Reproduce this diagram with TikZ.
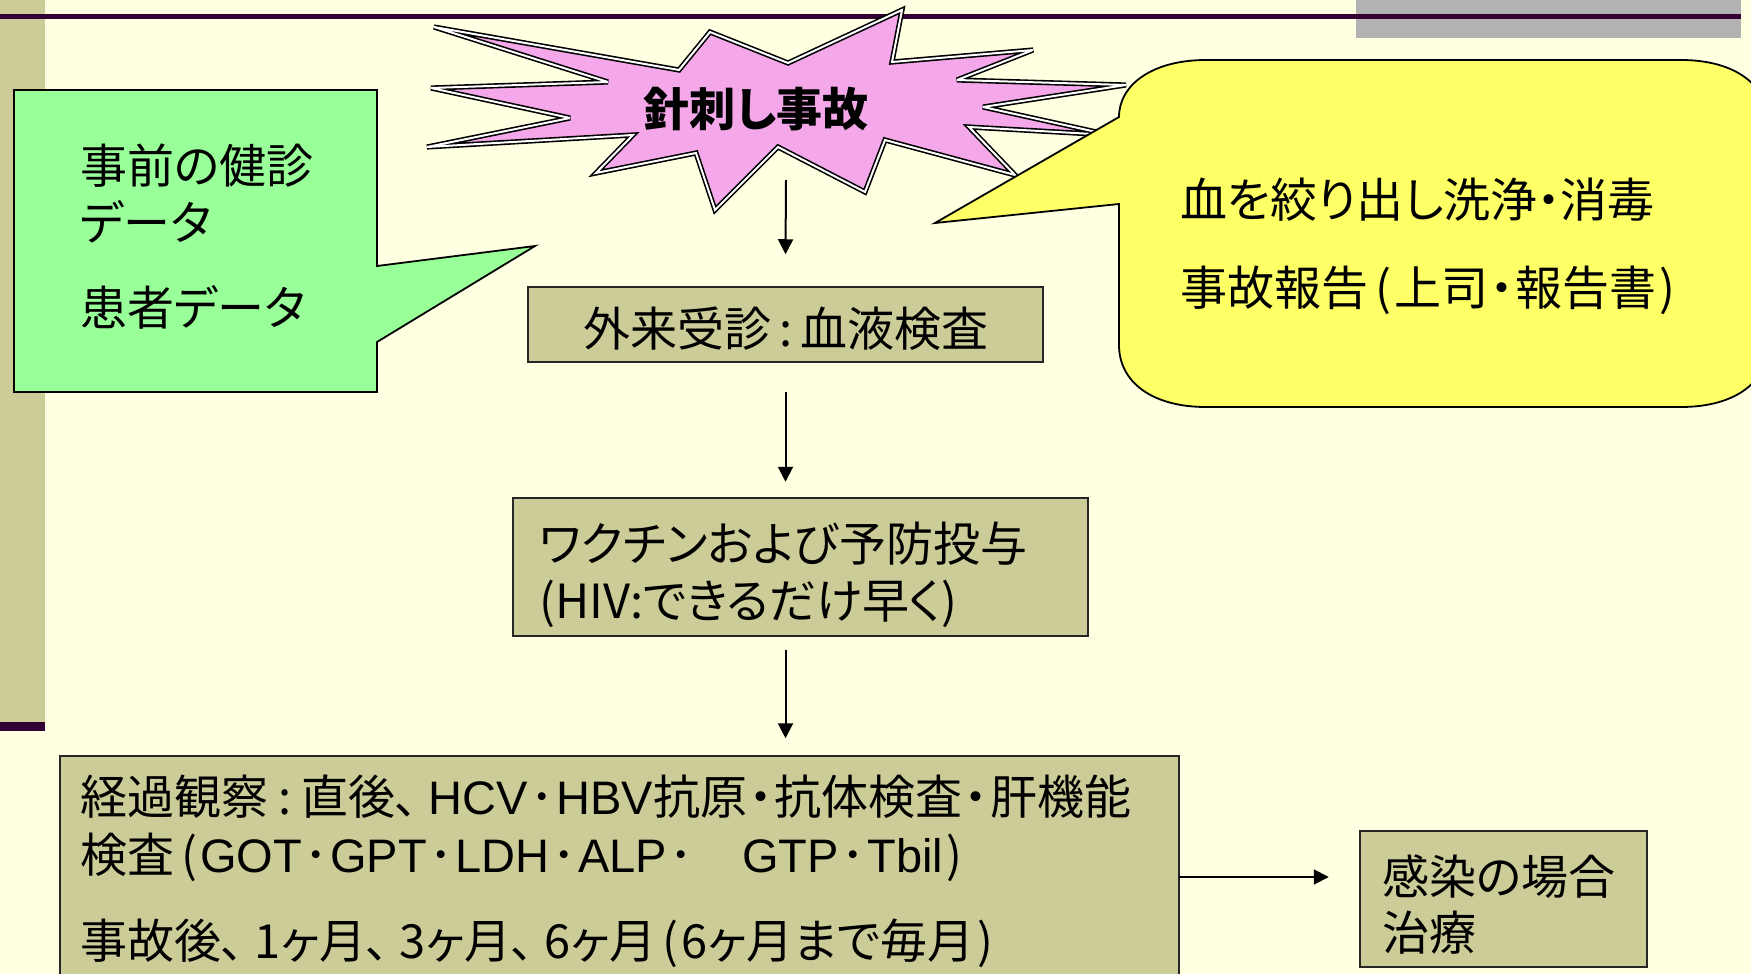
\documentclass[tikz,border=0pt]{standalone}
\usepackage{fontspec}
\setmainfont{Noto Sans CJK JP}[RawFeature=+palt]
\newfontfamily\latfont{Liberation Sans}
\usetikzlibrary{arrows.meta,fit,calc}
\definecolor{bgc}{HTML}{FFFFE1}
\definecolor{tanc}{HTML}{CCCC99}
\definecolor{greenc}{HTML}{99FF99}
\definecolor{yellowc}{HTML}{FFFF66}
\definecolor{pinkc}{HTML}{F4A8EA}
\definecolor{purplec}{HTML}{330033}
\definecolor{grayc}{HTML}{B2B2B2}
\newcommand\lpar{\hspace{7pt}(\hspace{3pt}}
\newcommand\rpar{\hspace{3pt})}
\newcommand\colo{\hspace{10pt}:\hspace{10pt}}
\newcommand\tenm{､\hspace{10pt}}
\newcommand\hdot{\hspace{2.5pt}･\hspace{2.5pt}}
\newcommand\kdot{\hspace{2pt}・\hspace{2pt}}
\newcommand\la[1]{{\latfont #1}}
\tikzset{
  txt/.style={anchor=base west, inner sep=0pt, font=\fontsize{47}{57}\selectfont},
  box/.style={draw=black!85, line width=1.5pt, fill=tanc, inner sep=0pt},
  arr/.style={line width=2pt, -{Triangle[length=15pt,width=15pt]}},
  callout/.style={draw=black, line width=1.8pt},
}
\begin{document}
\begin{tikzpicture}[x=1pt,y=-1pt]
\path[use as bounding box] (0,0) rectangle (1751,974);
\clip (0,0) rectangle (1751,974);
\fill[bgc] (0,0) rectangle (1751,974);
% decorations
\fill[grayc] (1356,0) rectangle (1741,38);
\fill[tanc] (0,0) rectangle (45,722);
\fill[purplec] (0,722) rectangle (45,731);
\fill[purplec] (0,14) rectangle (1741,19);

% green callout
\draw[callout, fill=greenc] (14,90) -- (377,90) -- (377,266) -- (535,246) -- (377,342) -- (377,392) -- (14,392) -- cycle;
\node[txt] (g1) at (80,183) {事前の健診};
\node[txt] (g2) at (80,240) {データ};
\node[txt] (g3) at (80,325) {患者データ};

% starburst
\draw[draw=black, double=white, double distance=2pt, line width=1.6pt, fill=pinkc, line join=miter, miter limit=4]
 (434,27) -- (679,70) -- (710,32) -- (788,63) -- (902,10) -- (892,62) -- (1033,50) -- (957,80)
 -- (1126,85) -- (983,107) -- (1110,135) -- (969,127) -- (1015,175) -- (885,140) -- (865,192)
 -- (778,147) -- (715,210) -- (696,153) -- (596,173) -- (633,135) -- (427,147) -- (570,118)
 -- (431,88) -- (608,82) -- cycle;
\node[anchor=base, inner sep=0pt, font=\fontsize{46}{50}\selectfont\bfseries] (burst) at (756,126) {針刺し事故};

% yellow callout
\draw[callout, fill=yellowc] (1119,204) -- (935,223) -- (1119,117)
 .. controls (1119,85) and (1152,60) .. (1206,60) -- (1681,60)
 .. controls (1735,60) and (1768,85) .. (1768,122) -- (1768,345)
 .. controls (1768,382) and (1735,407) .. (1681,407) -- (1206,407)
 .. controls (1152,407) and (1119,382) .. (1119,345) -- cycle;
\node[txt] (y1) at (1180,217) {血を絞り出し洗浄・消毒};
\node[txt] (y2) at (1180,305) {事故報告\lpar 上司\kdot 報告書\rpar};

% flow boxes
\node[box, fit={(528,287) (1043,362)}] (b1) {};
\node[txt, anchor=base] (t1) at (786,346) {外来受診\hspace{8pt}:\hspace{8pt}血液検査};

\node[box, fit={(513,498) (1088,636)}] (b2) {};
\node[txt] (t2a) at (539,561) {ワクチンおよび予防投与};
\node[txt] (t2b) at (539,618) {(HIV:できるだけ早く)};

\node[box, fit={(60,756) (1179,1000)}] (b3) {};
\node[txt] (t3a) at (80,814) {経過観察\colo 直後\tenm\la{HCV}\hdot\la{HBV}抗原\kdot 抗体検査\kdot 肝機能};
\node[txt] (t3b) at (80,872) {検査\lpar\la{GOT}\hdot\la{GPT}\hdot\la{LDH}\hdot\la{ALP}\hdot\hspace*{47pt}\la{GTP}\hdot\la{Tbil}\rpar};
\node[txt] (t3c) at (80,958) {事故後\tenm 1ヶ月\tenm 3ヶ月\tenm 6ヶ月\lpar 6ヶ月まで毎月\rpar};

\node[box, fit={(1360,831) (1647,967)}] (b4) {};
\node[txt] (t4a) at (1382,894) {感染の場合};
\node[txt] (t4b) at (1382,950) {治療};

% connectors
\coordinate (a1s) at (786,180);
\draw[arr] (a1s) -- ($(b1.north)+(0,-32)$);
\draw[arr] ($(b1.south)+(0,29)$) -- ($(b2.north -| b1.south)+(0,-15.5)$);
\draw[arr] ($(b2.south -| b1.south)+(0,13)$) -- ($(b3.north -| b1.south)+(0,-17)$);
\coordinate (a4) at (1179,877);
\draw[arr] (a4) -- ($(a4 -| b4.west)+(-30.5,0)$);
\end{tikzpicture}
\end{document}
